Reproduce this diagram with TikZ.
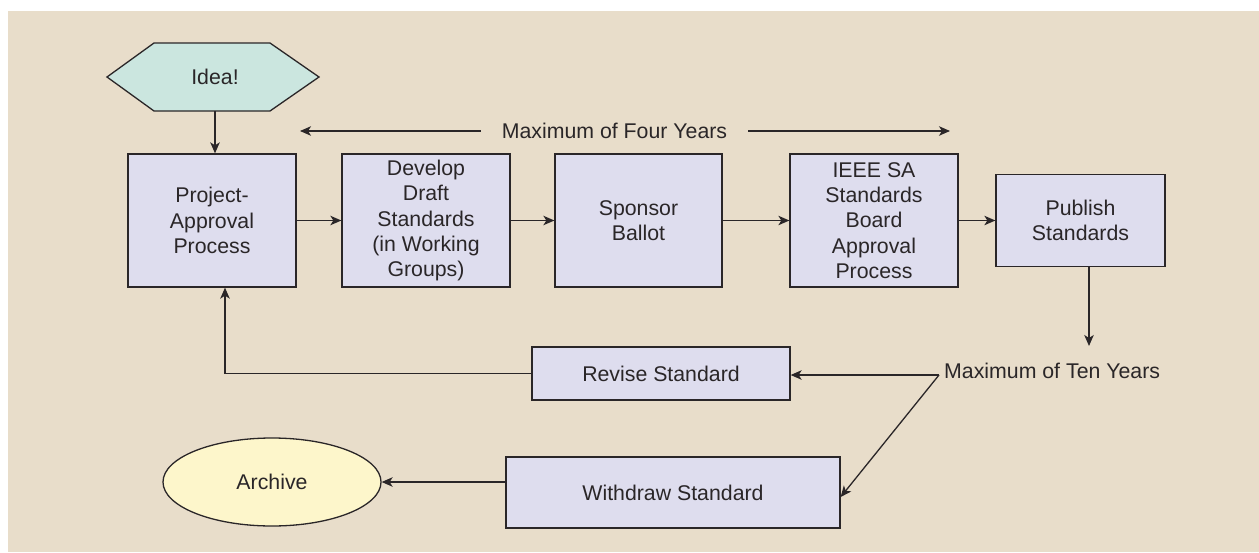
\documentclass[tikz,border=0pt]{standalone}
\usepackage{fontspec}
\setmainfont{Liberation Sans}
\usetikzlibrary{arrows.meta,shapes.geometric}
\definecolor{bgbeige}{HTML}{E8DDCA}
\definecolor{boxfill}{HTML}{DEDDEE}
\definecolor{hexfill}{HTML}{CBE6DF}
\definecolor{ellfill}{HTML}{FDF6CB}
\definecolor{inkc}{HTML}{2A2628}
\tikzset{
  stdbox/.style={draw=inkc, fill=boxfill, line width=1.3pt, rectangle, align=center,
    inner sep=0pt, text=inkc, font=\fontsize{21.3}{25.4}\selectfont},
  lbl/.style={text=inkc, font=\fontsize{21.3}{25.4}\selectfont, inner sep=0pt},
  arr/.style={draw=inkc, line width=1.3pt, -{Stealth[length=11pt,width=9.5pt,inset=3pt]}},
}
\begin{document}
\begin{tikzpicture}[x=1pt,y=-1pt]
\useasboundingbox (0,0) rectangle (1259,552);
\fill[white] (0,0) rectangle (1259,552);
\fill[bgbeige] (8,11) rectangle (1259,552);

% Idea hexagon
\draw[draw=inkc, fill=hexfill, line width=1.3pt] (107,77) -- (154,43) -- (270,43) -- (319,77) -- (270,111) -- (154,111) -- cycle;
\node[lbl, minimum width=212pt, minimum height=68pt] (idea) at (215,77) {Idea!};

% main boxes
\node[stdbox, minimum width=168pt, minimum height=133pt] (proj) at (212,220.5) {Project-\\Approval\\Process};
\node[stdbox, minimum width=168pt, minimum height=133pt] (dev) at (426,220.5) {Develop\\Draft\\Standards\\(in Working\\Groups)};
\node[stdbox, minimum width=167pt, minimum height=133pt] (spon) at (638.5,220.5) {Sponsor\\Ballot};
\node[stdbox, minimum width=168pt, minimum height=133pt] (ieee) at (874,220.5) {IEEE SA\\Standards\\Board\\Approval\\Process};
\node[stdbox, minimum width=169pt, minimum height=92pt] (pub) at (1080.5,220.5) {Publish\\Standards};

\node[stdbox, minimum width=258pt, minimum height=53pt] (rev) at (661,373.5) {Revise Standard};
\node[stdbox, minimum width=334pt, minimum height=71pt] (wd) at (673,492.5) {Withdraw Standard};
\node[ellipse, draw=inkc, fill=ellfill, line width=1.3pt, minimum width=218pt, minimum height=88pt,
  inner sep=0pt, text=inkc, font=\fontsize{21.3}{25.4}\selectfont] (arch) at (272,482) {Archive};

% labels
\node[lbl, inner xsep=21pt] (four) at (614.5,131) {Maximum of Four Years};
\coordinate (fl) at (300,131);
\coordinate (fr) at (950,131);
\node[lbl, anchor=west] (ten) at (944,371) {Maximum of Ten Years};
\coordinate (split) at (939,375);
\coordinate (pubend) at (1089,346);

% connectors
\draw[arr] (idea.south) -- (idea.south |- proj.north);
\draw[arr] (proj.east) -- (dev.west);
\draw[arr] (dev.east) -- (spon.west);
\draw[arr] (spon.east) -- (ieee.west);
\draw[arr] (ieee.east) -- (pub.west);
\draw[arr] (four.west) -- (fl);
\draw[arr] (four.east) -- (fr);
\draw[arr] ([xshift=8.5pt]pub.south) -- (pubend);
\draw[arr] (split) -- (split -| rev.east);
\draw[arr] (split) -- ([yshift=-4.5pt]wd.east);
\draw[arr] (rev.west) -| ([xshift=13pt]proj.south);
\draw[arr] ([yshift=10.5pt]wd.west) -- (arch.east);
\end{tikzpicture}
\end{document}
